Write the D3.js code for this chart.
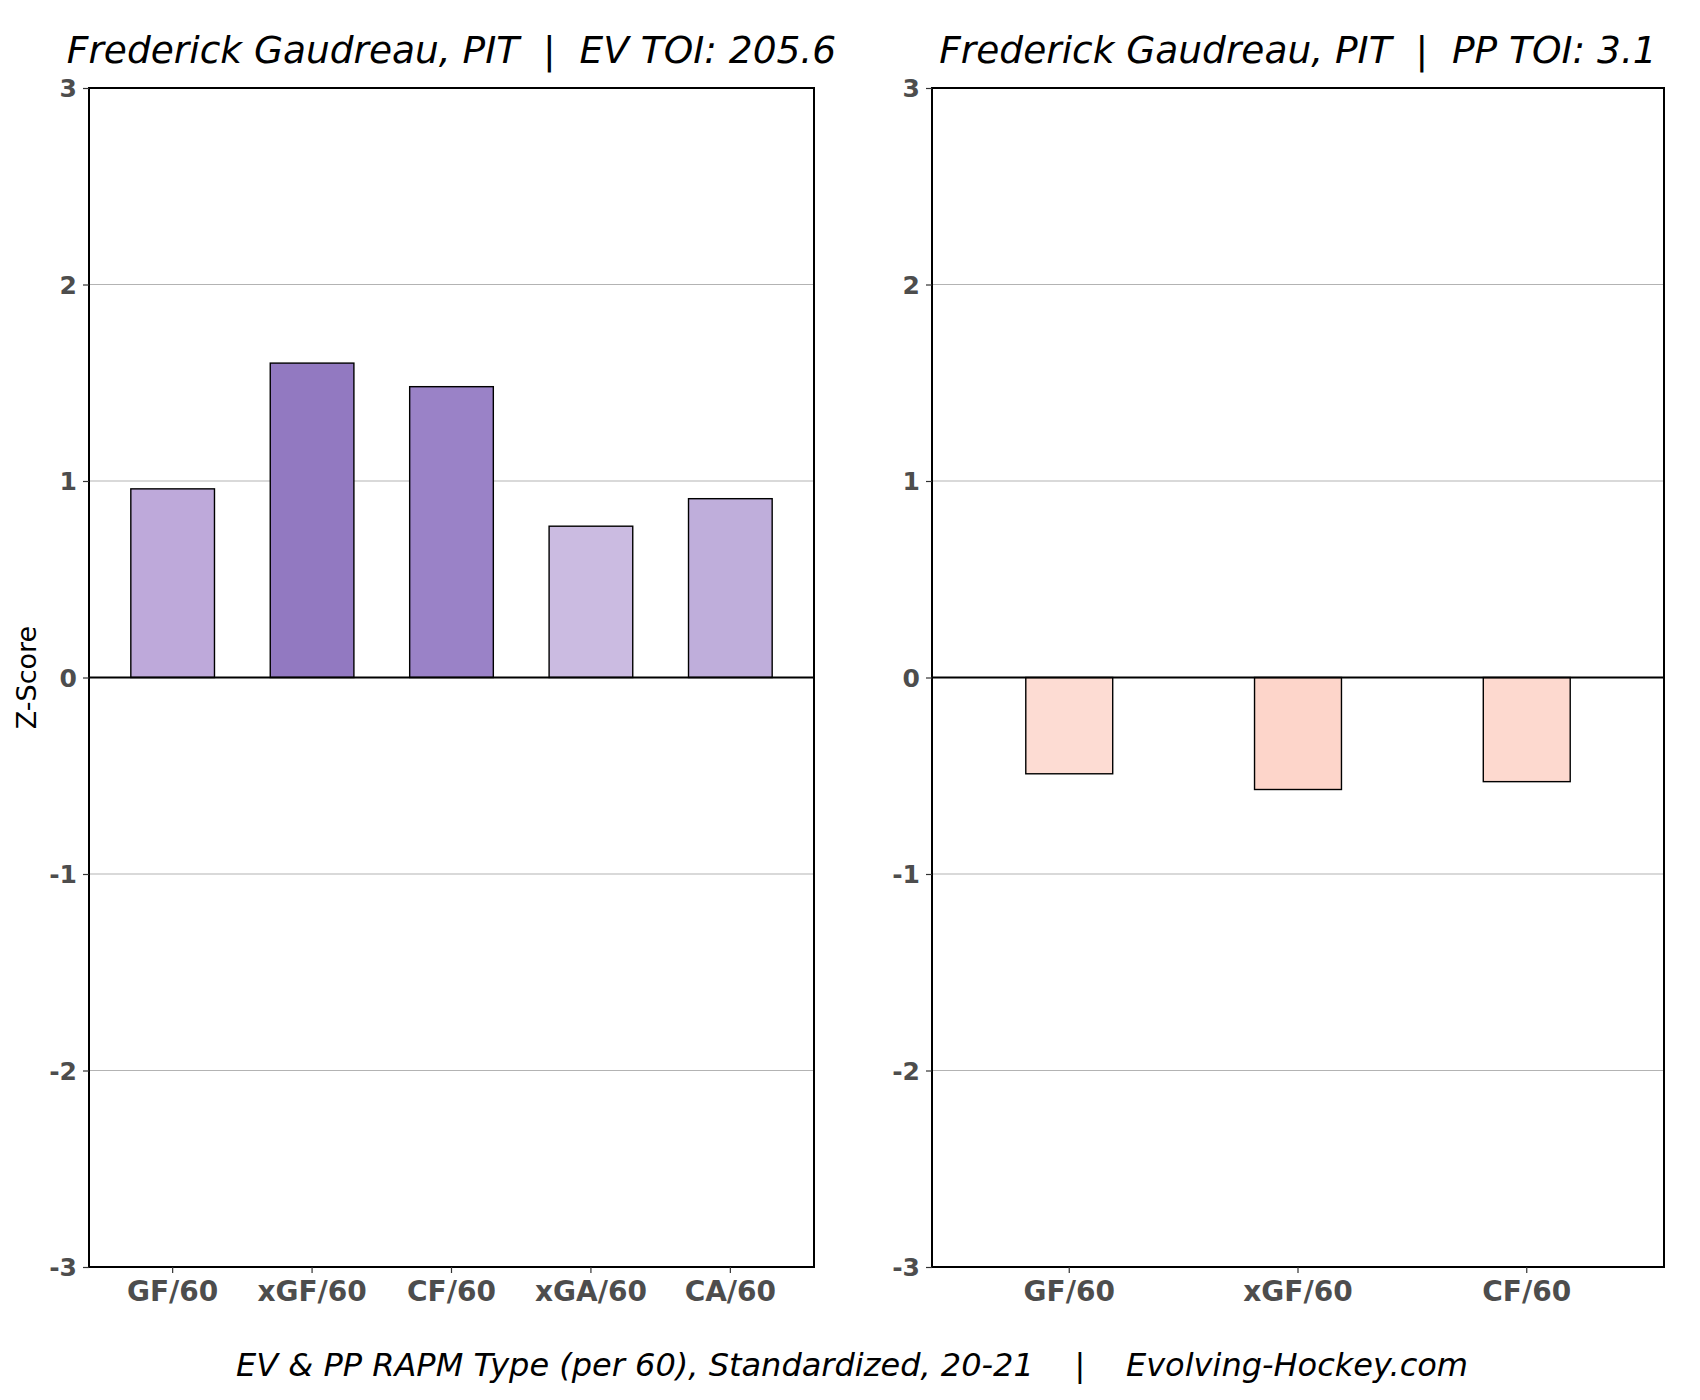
<!DOCTYPE html>
<html>
<head>
<meta charset="utf-8">
<script src="https://cdn.jsdelivr.net/npm/d3@7"></script>
<style>
  body { margin: 0; background: #fff; }
  text { font-family: "DejaVu Sans", sans-serif; }
</style>
</head>
<body>
<div id="chart"></div>
<script>
// data
var evCats = ["GF/60", "xGF/60", "CF/60", "xGA/60", "CA/60"];
var evVals = [0.96, 1.60, 1.48, 0.77, 0.91];
var evFill = ["#bea9da", "#9279c1", "#9a82c7", "#cbbbe1", "#bfaedb"];

var ppCats = ["GF/60", "xGF/60", "CF/60"];
var ppVals = [-0.49, -0.57, -0.53];
var ppFill = ["#fddcd3", "#fdd5ca", "#fdd9cf"];

var yTicks = [-3, -2, -1, 0, 1, 2, 3];

var evTitle = "Frederick Gaudreau, PIT  |  EV TOI: 205.6";
var ppTitle = "Frederick Gaudreau, PIT  |  PP TOI: 3.1";
var caption = "EV & PP RAPM Type (per 60), Standardized, 20-21    |    Evolving-Hockey.com";

var width = 1700, height = 1400;
var panelTop = 88, panelBottom = 1267;

var svg = d3.select("#chart")
	.append("svg")
	.attr("width", width)
	.attr("height", height);

var y = d3.scaleLinear()
	.domain([-3, 3])
	.range([panelBottom, panelTop]);

function drawPanel(left, right, cats, vals, fills, title, inner, outer, showYLabel)
{
	var x = d3.scaleBand()
		.domain(cats)
		.range([left, right])
		.paddingInner(inner)
		.paddingOuter(outer);

	var g = svg.append("g");

	// grid lines
	g.selectAll("line.grid")
		.data(yTicks.filter(function (d) { return d !== 0; }))
		.enter()
		.append("line")
		.attr("class", "grid")
		.attr("x1", left).attr("x2", right)
		.attr("y1", function (d) { return y(d); })
		.attr("y2", function (d) { return y(d); })
		.attr("stroke", "#b3b3b3")
		.attr("stroke-width", 1.1);

	// bars
	g.selectAll("rect.bar")
		.data(vals)
		.enter()
		.append("rect")
		.attr("class", "bar")
		.attr("x", function (d, i) { return x(cats[i]); })
		.attr("width", x.bandwidth())
		.attr("y", function (d) { return y(Math.max(0, d)); })
		.attr("height", function (d) { return Math.abs(y(d) - y(0)); })
		.attr("fill", function (d, i) { return fills[i]; })
		.attr("stroke", "#000")
		.attr("stroke-width", 1.4);

	// zero line
	g.append("line")
		.attr("x1", left).attr("x2", right)
		.attr("y1", y(0)).attr("y2", y(0))
		.attr("stroke", "#000")
		.attr("stroke-width", 2.2);

	// frame
	g.append("rect")
		.attr("x", left).attr("y", panelTop)
		.attr("width", right - left).attr("height", panelBottom - panelTop)
		.attr("fill", "none")
		.attr("stroke", "#000")
		.attr("stroke-width", 2);

	// y axis
	var yAxis = g.append("g")
		.attr("transform", "translate(" + left + ",0)")
		.call(d3.axisLeft(y).tickValues(yTicks).tickSize(6).tickPadding(6)
			.tickFormat(function (d) { return String(d); }));
	yAxis.select(".domain").remove();
	yAxis.selectAll(".tick line").attr("stroke", "#333").attr("stroke-width", 1.2);
	yAxis.selectAll(".tick text")
		.attr("fill", "#4d4d4d")
		.style("font-family", "DejaVu Sans")
		.style("font-weight", "bold")
		.style("font-size", "25px")
		.attr("dy", "0.34em");

	// x axis
	var xAxis = g.append("g")
		.attr("transform", "translate(0," + panelBottom + ")")
		.call(d3.axisBottom(x).tickSize(6).tickPadding(6));
	xAxis.select(".domain").remove();
	xAxis.selectAll(".tick line").attr("stroke", "#333").attr("stroke-width", 1.2);
	xAxis.selectAll(".tick text")
		.attr("fill", "#4d4d4d")
		.style("font-family", "DejaVu Sans")
		.style("font-weight", "bold")
		.style("font-size", "28px")
		.attr("dy", "0.78em");

	// title
	g.append("text")
		.attr("x", (left + right) / 2)
		.attr("y", 63)
		.attr("text-anchor", "middle")
		.style("font-size", "37.5px")
		.style("font-style", "italic")
		.style("white-space", "pre")
		.attr("fill", "#000")
		.text(title);

	if(showYLabel){
		g.append("text")
			.attr("transform", "translate(36," + y(0) + ") rotate(-90)")
			.attr("text-anchor", "middle")
			.style("font-size", "27px")
			.attr("fill", "#000")
			.text("Z-Score");
	}
}

drawPanel(89, 814, evCats, evVals, evFill, evTitle, 0.4, 0.3, true);
drawPanel(932, 1664, ppCats, ppVals, ppFill, ppTitle, 0.62, 0.41, false);

svg.append("text")
	.attr("x", 852)
	.attr("y", 1376)
	.attr("text-anchor", "middle")
	.style("font-size", "32px")
	.style("font-style", "italic")
	.style("white-space", "pre")
	.attr("fill", "#000")
	.text(caption);
</script>
</body>
</html>
